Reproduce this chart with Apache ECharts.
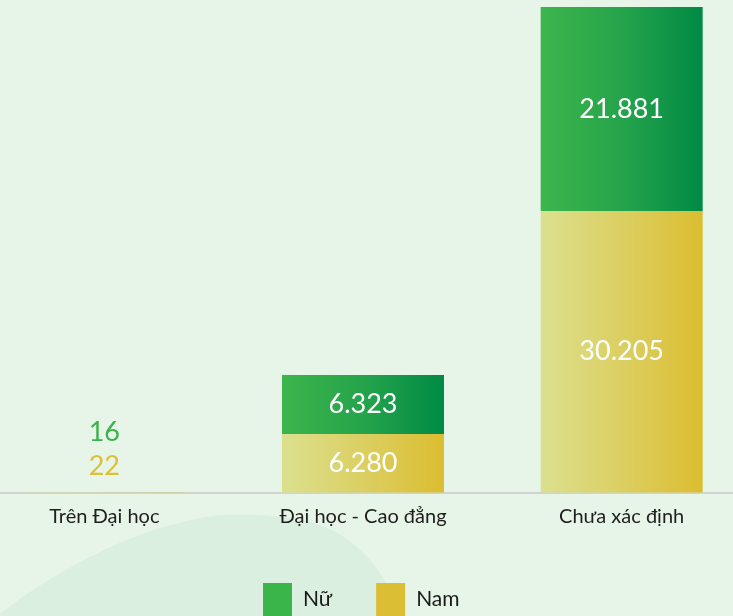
<!DOCTYPE html>
<html>
<head>
<meta charset="utf-8">
<script src="https://cdn.jsdelivr.net/npm/echarts@6/dist/echarts.min.js"></script>
<style>
  html, body { margin: 0; padding: 0; background: #e7f5e9; }
  #chart { width: 733px; height: 616px; }
</style>
</head>
<body>
<div id="chart"></div>
<script>
// Education level categories
const categories = ['Trên Đại học', 'Đại học - Cao đẳng', 'Chưa xác định'];
// Male counts (bottom of stack)
const namValues = [22, 6280, 30205];
// Female counts (top of stack)
const nuValues = [16, 6323, 21881];
// Displayed labels (Vietnamese thousands separator)
const namLabels = ['22', '6.280', '30.205'];
const nuLabels = ['16', '6.323', '21.881'];

const FONT = 'Lato, "Noto Sans", sans-serif';
const greenSolid = '#3ab54a';
const yellowSolid = '#dbbe34';

function hGradient(stops) {
  return {
    type: 'linear', x: 0, y: 0, x2: 1, y2: 0,
    colorStops: stops.map(([offset, color]) => ({ offset, color }))
  };
}
const greenGrad = hGradient([[0, '#3cb54b'], [0.5, '#26a44c'], [1, '#008a44']]);
const yellowGrad = hGradient([[0, '#dbe08f'], [0.5, '#dbcf62'], [1, '#dbbd30']]);

const total = namValues.map((v, i) => v + nuValues[i]);
const yMax = Math.max(...total);

function buildData(values, labels, smallColor, smallDistance) {
  return values.map((v, i) => {
    const item = { value: v, labelText: labels[i] };
    // the first category is too thin for an inside label: put it above the bar
    if (i === 0) {
      item.label = {
        position: 'top',
        distance: smallDistance,
        color: smallColor
      };
    }
    return item;
  });
}

const chart = echarts.init(document.getElementById('chart'));
chart.setOption({
  backgroundColor: '#e7f5e9',
  animation: false,
  graphic: [{
    // soft hill shape in the lower-left background
    type: 'polygon',
    z: -10,
    silent: true,
    shape: {
      points: [[-10, 640], [0, 614], [100, 552], [190, 520], [258, 515], [325, 527], [372, 562], [405, 622], [410, 640]],
      smooth: 0.35
    },
    style: { fill: '#dbefe0' }
  }],
  grid: {
    left: -25, width: 776, top: 7, bottom: 123.5,
    containLabel: false,
    outerBoundsMode: 'none'
  },
  legend: {
    top: 578,
    left: 258,
    itemWidth: 29,
    itemHeight: 33,
    itemGap: 44,
    icon: 'rect',
    textStyle: { fontFamily: FONT, fontSize: 21, color: '#1a1a1a', padding: [6, 0, 0, 6] },
    data: [
      { name: 'Nữ', itemStyle: { color: greenSolid } },
      { name: 'Nam', itemStyle: { color: yellowSolid } }
    ]
  },
  xAxis: {
    type: 'category',
    data: categories,
    axisLine: { lineStyle: { color: '#d2d2d2', width: 2 } },
    axisTick: { show: false },
    axisLabel: { fontFamily: FONT, fontSize: 20, color: '#1e1e1e', margin: 14 }
  },
  yAxis: {
    type: 'value',
    min: 0,
    max: yMax,
    show: false,
    splitLine: { show: false }
  },
  series: [
    {
      name: 'Nam',
      type: 'bar',
      stack: 'total',
      barWidth: 162,
      itemStyle: { color: yellowGrad },
      label: {
        show: true,
        position: 'inside',
        color: '#ffffff',
        fontFamily: FONT,
        fontSize: 27,
        formatter: p => p.data.labelText
      },
      data: buildData(namValues, namLabels, '#dcc035', 12)
    },
    {
      name: 'Nữ',
      type: 'bar',
      stack: 'total',
      barWidth: 162,
      itemStyle: { color: greenGrad },
      label: {
        show: true,
        position: 'inside',
        color: '#ffffff',
        fontFamily: FONT,
        fontSize: 27,
        formatter: p => p.data.labelText
      },
      data: buildData(nuValues, nuLabels, '#3cb34a', 46)
    }
  ]
});
</script>
</body>
</html>
